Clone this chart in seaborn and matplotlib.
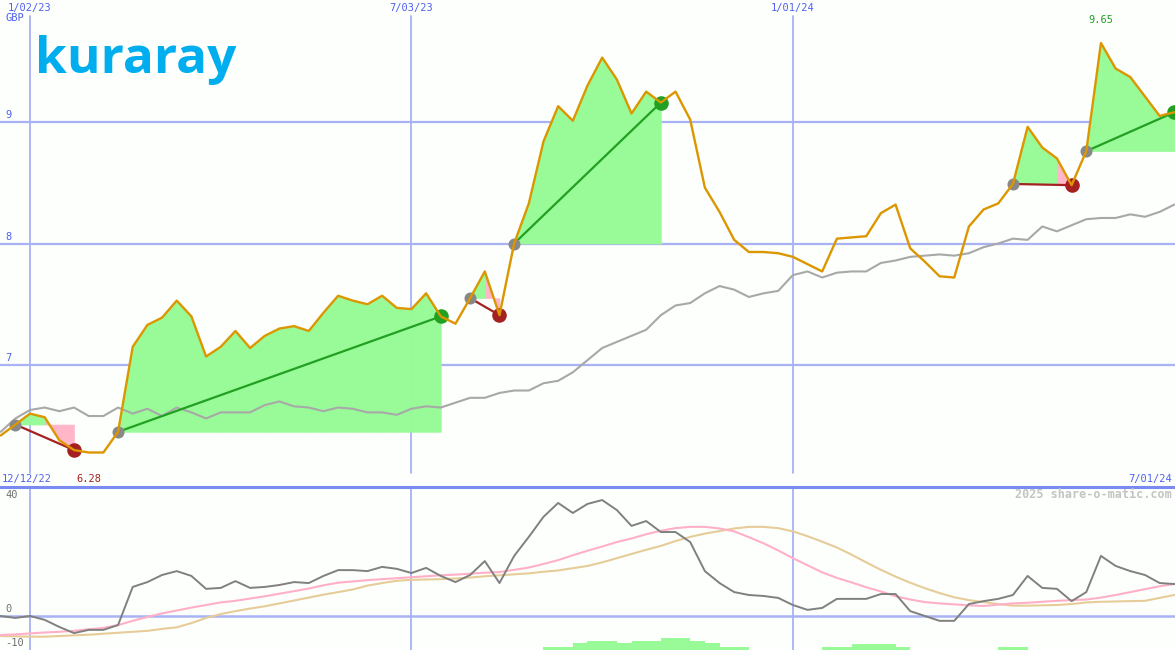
import matplotlib
matplotlib.use('Agg')
import matplotlib.pyplot as plt
import matplotlib.transforms as mtransforms
import seaborn as sns
import pandas as pd

# weekly data, 19 Dec 2022 .. 1 Jul 2024
dates = pd.date_range('2022-12-19', '2024-07-01', freq='7D')

price = [6.42, 6.51, 6.60, 6.57, 6.38, 6.30, 6.28, 6.28, 6.45, 7.15, 7.33, 7.39,
         7.53, 7.40, 7.07, 7.15, 7.28, 7.14, 7.24, 7.30, 7.32, 7.28,
         7.43, 7.57, 7.53, 7.50, 7.57, 7.47, 7.46, 7.59, 7.40, 7.34,
         7.55, 7.77, 7.41, 8.00, 8.33, 8.84, 9.13, 9.01, 9.30, 9.53,
         9.35, 9.07, 9.25, 9.16, 9.25, 9.02, 8.46, 8.26, 8.03, 7.93,
         7.93, 7.92, 7.89, 7.83, 7.77, 8.04, 8.05, 8.06, 8.25, 8.32,
         7.96, 7.85, 7.73, 7.72, 8.14, 8.28, 8.33, 8.49, 8.96, 8.79,
         8.70, 8.48, 8.76, 9.65, 9.44, 9.37, 9.21, 9.05, 9.08]

avg_line = [6.45, 6.56, 6.63, 6.65, 6.62, 6.65, 6.58, 6.58, 6.65, 6.60, 6.64, 6.58,
            6.65, 6.61, 6.56, 6.61, 6.61, 6.61, 6.67, 6.70, 6.66, 6.65,
            6.62, 6.65, 6.64, 6.61, 6.61, 6.59, 6.64, 6.66, 6.65, 6.69,
            6.73, 6.73, 6.77, 6.79, 6.79, 6.85, 6.87, 6.94, 7.04, 7.14,
            7.19, 7.24, 7.29, 7.41, 7.49, 7.51, 7.59, 7.65, 7.62, 7.56,
            7.59, 7.61, 7.74, 7.77, 7.72, 7.76, 7.77, 7.77, 7.84, 7.86,
            7.89, 7.90, 7.91, 7.90, 7.92, 7.97, 8.00, 8.04, 8.03, 8.14,
            8.10, 8.15, 8.20, 8.21, 8.21, 8.24, 8.22, 8.26, 8.32]

momentum = [0, -0.6, 0, -1.2, -3.4, -5.3, -4.3, -4.3, -2.8, 9.0, 10.5, 12.7,
            13.9, 12.4, 8.4, 8.7, 10.8, 8.7, 9.0, 9.6, 10.5, 10.2,
            12.4, 14.2, 14.2, 13.9, 15.2, 14.6, 13.3, 14.9, 12.4, 10.5,
            12.7, 17.0, 10.2, 18.6, 24.5, 30.7, 35.0, 31.9, 34.7, 35.9,
            32.8, 27.9, 29.4, 26.0, 26.0, 22.9, 13.9, 10.2, 7.4, 6.5,
            6.2, 5.6, 3.4, 1.9, 2.5, 5.3, 5.3, 5.3, 6.8, 6.8,
            1.5, 0, -1.5, -1.5, 3.7, 4.6, 5.3, 6.5, 12.4, 8.7,
            8.4, 4.6, 7.4, 18.6, 15.5, 13.9, 12.7, 10.2, 9.9]

fast_avg = [-5.9, -5.7, -5.4, -5.1, -4.9, -4.6, -4.1, -3.7, -2.8, -1.5, -0.3, 0.8,
            1.7, 2.6, 3.4, 4.2, 4.7, 5.4, 6.1, 6.9, 7.7, 8.5,
            9.5, 10.3, 10.7, 11.1, 11.4, 11.7, 12.0, 12.3, 12.6, 12.8,
            13.1, 13.4, 13.6, 14.3, 15.0, 16.1, 17.3, 18.8, 20.2, 21.5,
            22.9, 24.0, 25.3, 26.4, 27.2, 27.6, 27.6, 27.1, 26.2, 24.4,
            22.5, 20.3, 17.9, 15.7, 13.5, 11.8, 10.4, 8.9, 7.6, 6.1,
            5.1, 4.3, 3.9, 3.6, 3.3, 3.1, 3.5, 3.9, 4.1, 4.4,
            4.7, 4.9, 5.1, 5.7, 6.5, 7.4, 8.3, 9.2, 9.9]

slow_avg = [-6.2, -6.3, -6.4, -6.4, -6.2, -6.0, -5.8, -5.5, -5.2, -4.9, -4.6, -4.0,
            -3.5, -2.2, -0.6, 0.6, 1.5, 2.3, 3.0, 3.9, 4.8, 5.7,
            6.6, 7.4, 8.2, 9.4, 10.2, 10.9, 11.2, 11.3, 11.4, 11.6,
            11.9, 12.3, 12.6, 12.9, 13.2, 13.7, 14.1, 14.8, 15.5, 16.6,
            17.9, 19.2, 20.5, 21.7, 23.2, 24.5, 25.5, 26.3, 27.1, 27.6,
            27.6, 27.2, 26.2, 24.7, 23.0, 21.2, 19.0, 16.6, 14.3, 12.2,
            10.3, 8.6, 7.1, 5.8, 4.9, 4.3, 3.7, 3.2, 3.2, 3.3,
            3.4, 3.7, 4.2, 4.4, 4.5, 4.6, 4.7, 5.6, 6.5]

hist = [0] * 37 + [0.9, 0.9, 2.2, 2.8, 2.8, 2.2, 2.8, 2.8, 3.7, 3.7, 2.8, 2.2, 0.9, 0.9] \
       + [0] * 5 + [0.9, 0.9, 1.9, 1.9, 1.9, 0.9] + [0] * 6 + [0.9, 0.9] + [0] * 11

# swings: index of start / end point in the series
swing_start = [1, 8, 32, 35, 69, 74]
swing_end = [5, 30, 34, 45, 73, 80]

grid_dates = pd.to_datetime(['2023-01-02', '2023-07-03', '2024-01-01'])
grid_labels = ['1/02/23', '7/03/23', '1/01/24']
price_ticks = [7, 8, 9]
osc_ticks = [40, 0, -10]

BG = '#FCFFFC'
GRID = '#A8B2F4'
BLUE_TXT = '#5060F0'
ORANGE = '#DC9600'
UP_FILL = '#98FB98'
DOWN_FILL = '#FFB6C8'
UP_LINE = '#22A022'
DOWN_LINE = '#A52020'

sns.set_theme(style='white', rc={'axes.facecolor': BG, 'figure.facecolor': BG})
plt.rcParams['font.family'] = ['DejaVu Sans Mono', 'DejaVu Sans']

W, H = 1175, 650
fig = plt.figure(figsize=(W / 100, H / 100), dpi=100)
ax = fig.add_axes([0, 163 / H, 1, 487 / H])
axb = fig.add_axes([0, 0, 1, 163 / H])

xlim = (dates[0] - pd.Timedelta(hours=8), dates[-1] + pd.Timedelta(hours=8))
for a in (ax, axb):
    a.set_xlim(xlim)
    a.set_xticks([])
    a.set_yticks([])
    a.set_xlabel('')
    a.set_ylabel('')
    for sp in a.spines.values():
        sp.set_visible(False)

# ---- price panel ----
ax.set_ylim(5.996, 10.004)
for v in price_ticks:
    ax.axhline(v, color=GRID, lw=1.6, zorder=1)
for d in grid_dates:
    ax.axvline(d, ymin=14 / 487, ymax=1 - 16 / 487, color=GRID, lw=1.3, zorder=1)

for s, e in zip(swing_start, swing_end):
    level = price[s]
    for i in range(s, e):
        c = UP_FILL if price[i + 1] >= level else DOWN_FILL
        ax.fill_between(dates[i:i + 2], price[i:i + 2], level, color=c, lw=0.4,
                        edgecolor=c, zorder=2)

sns.lineplot(x=dates, y=avg_line, ax=ax, color='#A8A8A8', lw=1.5, zorder=3)

for s, e in zip(swing_start, swing_end):
    up = price[e] > price[s]
    col = UP_LINE if up else DOWN_LINE
    ax.plot([dates[s], dates[e]], [price[s], price[e]], color=col, lw=1.6, zorder=4)
    ax.scatter([dates[s]], [price[s]], s=75, color='#888888', lw=0, zorder=5)
    ax.scatter([dates[e]], [price[e]], s=110, color=col, lw=0, zorder=5)

sns.lineplot(x=dates, y=price, ax=ax, color=ORANGE, lw=1.7, zorder=6)

tr = mtransforms.blended_transform_factory(ax.transData, ax.transAxes)
for d, lab in zip(grid_dates, grid_labels):
    ax.text(d, 1 - 8 / 487, lab, transform=tr, ha='center', va='center',
            fontsize=7.5, color=BLUE_TXT)
trl = mtransforms.blended_transform_factory(ax.transAxes, ax.transData)
for v in price_ticks:
    ax.text(5 / W, v + 0.015, str(v), transform=trl, ha='left', va='bottom',
            fontsize=7.5, color=BLUE_TXT)
ax.text(5 / W, 1 - 18 / 487, 'GBP', transform=ax.transAxes, ha='left', va='center',
        fontsize=7.5, color=BLUE_TXT)
ax.text(2 / W, 8 / 487, '12/12/22', transform=ax.transAxes, ha='left', va='center',
        fontsize=7.5, color=BLUE_TXT)
ax.text(1 - 3 / W, 8 / 487, '7/01/24', transform=ax.transAxes, ha='right', va='center',
        fontsize=7.5, color=BLUE_TXT)

i_min = price.index(min(price))
i_max = price.index(max(price))
ax.text(dates[i_min], 8 / 487, f'{min(price):.2f}', transform=tr, ha='center',
        va='center', fontsize=7.5, color=DOWN_LINE)
ax.text(dates[i_max], 1 - 20 / 487, f'{max(price):.2f}', transform=tr, ha='center',
        va='center', fontsize=7.5, color=UP_LINE)

ax.text(35 / W, 1 - 60 / 487, 'kuraray', transform=ax.transAxes, ha='left',
        va='center', fontsize=37, fontweight='bold', color='#00AEEF',
        family=['Open Sans', 'DejaVu Sans'])

# ---- oscillator panel ----
lo, hi = -10.53, 39.94
axb.set_ylim(lo, hi)
axb.spines['top'].set_visible(True)
axb.spines['top'].set_color('#7B8AF0')
axb.spines['top'].set_linewidth(2.2)
axb.axhline(0, color=GRID, lw=1.8, zorder=1)
for d in grid_dates:
    axb.axvline(d, color=GRID, lw=1.3, zorder=1)

axb.bar(dates, hist, width=7, align='edge', bottom=lo, color=UP_FILL, lw=0, zorder=2)
sns.lineplot(x=dates, y=slow_avg, ax=axb, color='#E6CC99', lw=1.5, zorder=3)
sns.lineplot(x=dates, y=fast_avg, ax=axb, color='#FFB0C8', lw=1.5, zorder=3)
sns.lineplot(x=dates, y=momentum, ax=axb, color='#808080', lw=1.4, zorder=4)

trb = mtransforms.blended_transform_factory(axb.transAxes, axb.transData)
axb.text(5 / W, 1 - 8 / 163, str(osc_ticks[0]), transform=axb.transAxes, ha='left',
         va='center', fontsize=7.5, color='#707070')
axb.text(5 / W, osc_ticks[1] + 0.5, str(osc_ticks[1]), transform=trb, ha='left',
         va='bottom', fontsize=7.5, color='#707070')
axb.text(5 / W, 1 / 163 * 7, str(osc_ticks[2]), transform=axb.transAxes, ha='left',
         va='center', fontsize=7.5, color='#707070')
axb.text(1 - 3 / W, 1 - 8 / 163, '2025 share-o-matic.com', transform=axb.transAxes,
         ha='right', va='center', fontsize=8.5, fontweight='bold', color='#C4C4C4')

fig.savefig('out.png', dpi=100, facecolor=BG)
